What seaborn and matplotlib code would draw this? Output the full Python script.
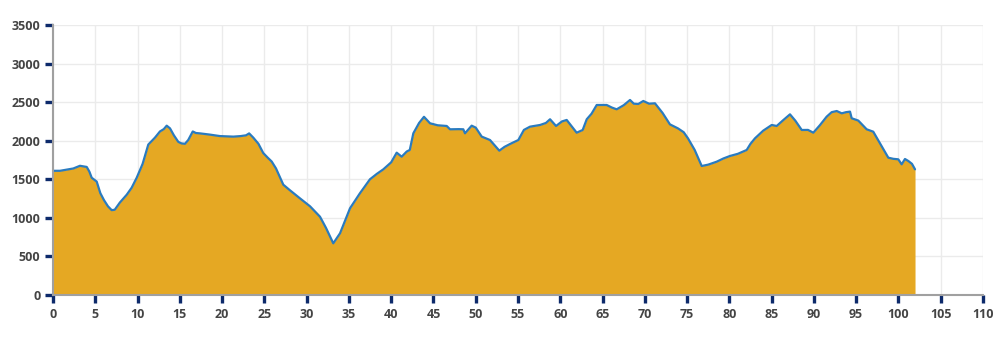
import matplotlib
matplotlib.use("Agg")
import matplotlib.pyplot as plt
import seaborn as sns
import pandas as pd

km = [0, 0.83, 1.62, 2.4, 3.19, 3.99, 4.3, 4.58, 5.17, 5.6, 6.03, 6.5, 6.94, 7.3, 7.92, 8.72, 9.3, 9.90, 10.6,
      11.27, 12.06, 12.65, 13.1, 13.45, 13.84, 14.3, 14.82, 15.2, 15.61, 16.0, 16.53, 16.9, 17.39, 18.5, 19.75,
      21.33, 22.2, 22.83, 23.2, 23.69, 24.3, 24.87, 25.4, 25.87, 26.38, 27.24, 28.0, 29.21, 30.4, 31.58, 32.29,
      33.15, 33.95, 35.13, 36.31, 37.49, 38.3, 39.07, 40.0, 40.65, 41.24, 41.84, 42.2, 42.62, 43.3, 43.88,
      44.59, 45.5, 46.57, 46.96, 48.0, 48.53, 48.73, 49.52, 50.0, 50.71, 51.69, 52.79, 53.4, 54.05, 55.04,
      55.7, 56.42, 57.61, 58.3, 58.79, 59.50, 60.2, 60.76, 61.4, 61.94, 62.65, 63.13, 63.7, 64.31, 65.49,
      66.1, 66.67, 67.5, 68.25, 68.7, 69.23, 69.82, 70.5, 71.20, 72.1, 72.97, 73.92, 74.6, 75.11, 75.9,
      76.73, 77.5, 78.50, 79.3, 80.07, 81.0, 82.05, 82.5, 83.03, 84.0, 85.01, 85.60, 86.3, 87.17, 87.8,
      88.56, 89.3, 89.93, 90.7, 91.51, 92.1, 92.70, 93.29, 93.8, 94.27, 94.47, 95.25, 96.24, 97.02, 97.9,
      98.80, 99.4, 99.98, 100.38, 100.77, 101.17, 101.6, 101.96]
elev = [1610, 1610, 1625, 1640, 1675, 1660, 1600, 1520, 1470, 1320, 1230, 1150, 1100, 1105, 1200, 1300,
        1390, 1520, 1700, 1950, 2040, 2120, 2150, 2195, 2160, 2070, 1985, 1965, 1960, 2010, 2120, 2100,
        2095, 2080, 2060, 2053, 2060, 2070, 2095, 2040, 1960, 1840, 1780, 1730, 1640, 1430, 1360, 1253,
        1150, 1015, 870, 670, 800, 1124, 1320, 1500, 1570, 1629, 1720, 1845, 1793, 1860, 1880, 2096, 2230,
        2310, 2226, 2200, 2191, 2148, 2150, 2148, 2096, 2195, 2170, 2053, 2009, 1871, 1920, 1957, 2009,
        2140, 2182, 2204, 2230, 2278, 2191, 2250, 2269, 2180, 2104, 2139, 2278, 2350, 2463, 2463, 2430,
        2407, 2460, 2528, 2480, 2476, 2515, 2480, 2485, 2360, 2212, 2160, 2110, 2030, 1880, 1672, 1690,
        1728, 1770, 1802, 1830, 1880, 1960, 2031, 2130, 2204, 2191, 2260, 2342, 2260, 2139, 2140, 2104,
        2200, 2312, 2370, 2385, 2355, 2370, 2377, 2291, 2261, 2148, 2117, 1950, 1780, 1765, 1759, 1694,
        1763, 1737, 1700, 1629]

df = pd.DataFrame({"km": km, "elev": elev})

sns.set_style("white")
plt.rcParams["font.family"] = ["Open Sans", "DejaVu Sans"]

fig = plt.figure(figsize=(10.08, 3.38), dpi=100)
ax = fig.add_axes([53 / 1008, 1 - 295 / 338, 930 / 1008, 270 / 338])

ax.fill_between(df["km"], 0, df["elev"], color="#e5a823", linewidth=0, zorder=2)
sns.lineplot(data=df, x="km", y="elev", ax=ax, color="#2a7bbf", linewidth=1.6, zorder=3)

ax.set_xlim(0, 110)
ax.set_ylim(0, 3500)
ax.set_xticks(range(0, 111, 5))
ax.set_yticks(range(0, 3501, 500))
ax.set_xlabel("")
ax.set_ylabel("")
ax.grid(True, color="#ebebeb", linewidth=1, zorder=0)
ax.set_axisbelow(True)

for s in ["top", "right"]:
    ax.spines[s].set_visible(False)
for s in ["left", "bottom"]:
    ax.spines[s].set_color("#a0a0a0")
    ax.spines[s].set_linewidth(1.5)
    ax.spines[s].set_zorder(4)

ax.tick_params(axis="both", which="major", direction="out", length=6, width=2.4,
               bottom=True, left=True, top=False, right=False,
               color="#0d2a6b", labelsize=9, labelcolor="#444444", pad=3)
for lab in ax.get_xticklabels() + ax.get_yticklabels():
    lab.set_fontweight("bold")

fig.savefig("out.png", dpi=100)
